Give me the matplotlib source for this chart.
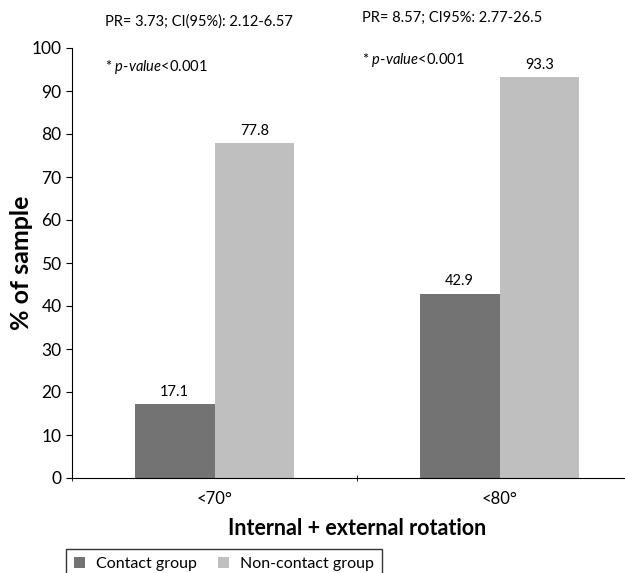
import numpy as np
import matplotlib.pyplot as plt

plt.rcParams['font.family'] = ['Lato', 'DejaVu Sans']
plt.rcParams['mathtext.fontset'] = 'custom'
plt.rcParams['mathtext.rm'] = 'Lato'
plt.rcParams['mathtext.it'] = 'Lato:italic'

categories = ['<70°', '<80°']
contact = [17.1, 42.9]
non_contact = [77.8, 93.3]
series_names = ['Contact group', 'Non-contact group']
notes = [('PR= 3.73; CI(95%): 2.12-6.57', '* $p$-$value$<0.001'),
         ('PR= 8.57; CI95%: 2.77-26.5', '* $p$-$value$<0.001')]

fig = plt.figure(figsize=(6.25, 5.73), dpi=100)
ax = fig.add_axes([72/625, 1 - 478/573, 570/625, 430/573])

x = np.arange(len(categories))
w = 0.28
b1 = ax.bar(x - w/2, contact, w, color='#737373', label=series_names[0])
b2 = ax.bar(x + w/2, non_contact, w, color='#bfbfbf', label=series_names[1])

for bars, vals in ((b1, contact), (b2, non_contact)):
    for r, v in zip(bars, vals):
        ax.text(r.get_x() + r.get_width()/2, v + 1.2, f'{v:.1f}',
                ha='center', va='bottom', fontsize=10.5)

ax.set_xlim(-0.5, len(categories) - 0.5)
ax.set_ylim(0, 100)
ax.set_yticks(np.arange(0, 101, 10))
ax.set_xticks(x)
ax.set_xticklabels(categories, fontsize=12)
ax.set_xticks(np.arange(-0.5, len(categories)), minor=True)
ax.tick_params(axis='x', which='major', length=0, pad=9)
ax.tick_params(axis='x', which='minor', length=4, direction='inout')
ax.tick_params(axis='y', labelsize=12.5, length=4)
for s in ('top', 'right'):
    ax.spines[s].set_visible(False)

ax.set_ylabel('% of sample', fontsize=18, fontweight='bold')
ax.yaxis.set_label_coords(-0.068, 0.5)
ax.set_xlabel('Internal + external rotation', fontsize=15.5, fontweight='bold', labelpad=8)

# annotation text above each group
fig.text(105/625, 1 - 22/573, notes[0][0], fontsize=10.5, va='center')
fig.text(105/625, 1 - 67/573, notes[0][1], fontsize=10.5, va='center')
fig.text(362/625, 1 - 18/573, notes[1][0], fontsize=10.5, va='center')
fig.text(362/625, 1 - 60/573, notes[1][1], fontsize=10.5, va='center')

leg = fig.legend(loc='upper left', bbox_to_anchor=(66/625, 1 - 549/573),
                 ncol=2, fontsize=11.5, frameon=True, fancybox=False,
                 handlelength=0.7, handleheight=0.7, columnspacing=1.3,
                 handletextpad=0.7, borderaxespad=0, borderpad=0.5)
leg.get_frame().set_edgecolor('black')
leg.get_frame().set_linewidth(1)

fig.savefig('out.png', dpi=100)
